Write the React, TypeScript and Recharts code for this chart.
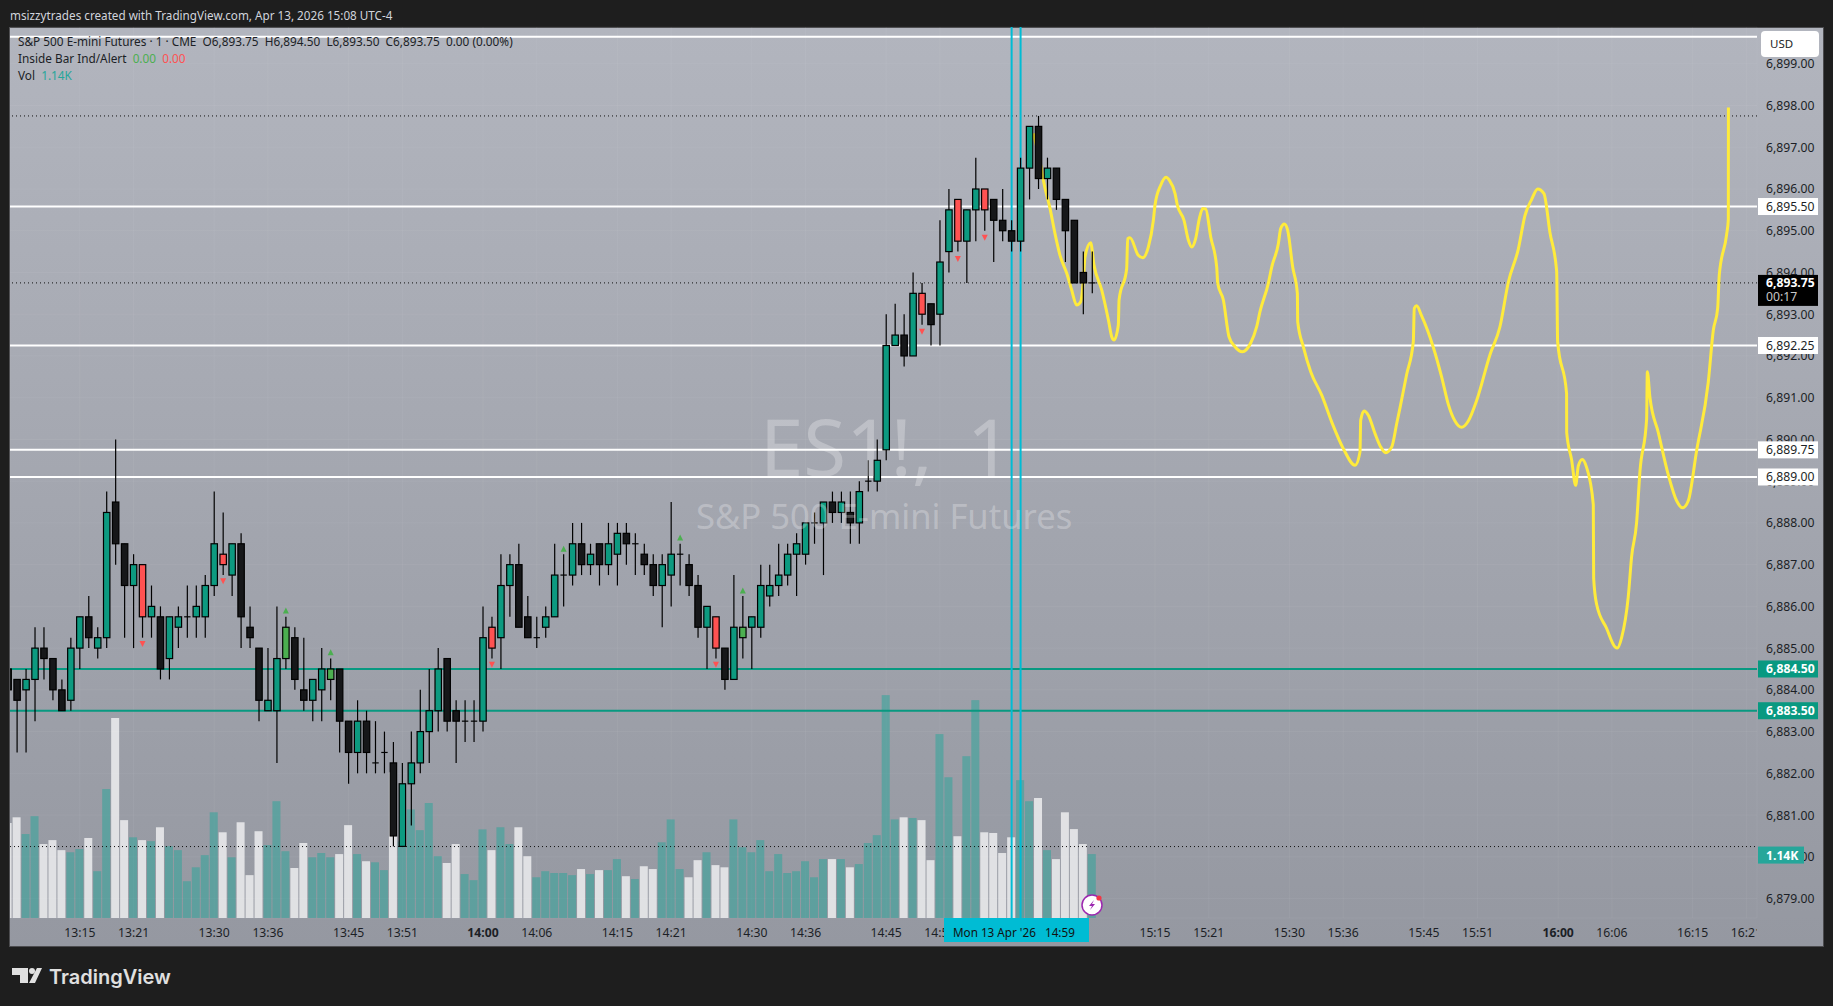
import { ComposedChart, Bar, Line, XAxis, YAxis, CartesianGrid, ReferenceLine } from "recharts";

const WIDTH = 1833;
const HEIGHT = 1006;
const FONT = '"Noto Sans", sans-serif';
const BODY_WIDTH = 6.4;

// one-minute bars, 13:07 -> 15:08
const firstMinute = 787;
const opens = [
  6884.5, 6884.25, 6884, 6884.25, 6885, 6884.75, 6884, 6883.75, 6885, 6885.75, 6885, 6885.25, 6888.5, 6887.5, 6886.5, 6887,
  6885.75, 6885.75, 6884.75, 6885.5, 6885.75, 6885.75, 6885.75, 6886.5, 6887.25, 6886.75, 6887.5, 6885.5, 6885, 6883.5, 6883.5, 6884.75,
  6885.25, 6884, 6883.75, 6884, 6884.25, 6884.5, 6883.25, 6882.5, 6883.25, 6882.25, 6882.5, 6882.25, 6880.25, 6881.75, 6882.25, 6883,
  6883.5, 6884.75, 6883.5, 6883.25, 6883.25, 6883.25, 6885.5, 6885.25, 6886.5, 6887, 6885.75, 6885.25, 6885.5, 6885.75, 6886.75, 6886.75,
  6887.5, 6887, 6887.5, 6887, 6887.25, 6887.75, 6887.5, 6887.25, 6887, 6886.5, 6886.75, 6887.25, 6887, 6886.5, 6885.5, 6885.75,
  6885, 6884.25, 6885.25, 6885.5, 6885.5, 6886.25, 6886.5, 6886.75, 6887.25, 6887.25, 6888, 6888, 6888.5, 6888.25, 6888.25, 6888,
  6889, 6889, 6889.75, 6892.25, 6892.5, 6892, 6893.5, 6893.25, 6893, 6894.5, 6895.75, 6894.75, 6895.5, 6896, 6895.75, 6895.25,
  6895, 6894.75, 6896.5, 6897.5, 6896.25, 6896.5, 6895.75, 6895.25, 6894, 6893.75,
];
const highs = [
  6884.5, 6884.25, 6884.5, 6885.5, 6885.5, 6884.75, 6884.25, 6885.25, 6885.75, 6886.25, 6885.5, 6888.75, 6890, 6887.5, 6887.25, 6887,
  6886.5, 6886, 6885.75, 6886, 6886.5, 6886.5, 6886.75, 6888.75, 6888.25, 6887.5, 6887.75, 6886, 6885, 6885, 6886, 6885.75,
  6885.5, 6885.25, 6884.25, 6885, 6884.75, 6884.5, 6883.25, 6883.75, 6883.5, 6883.25, 6883, 6882.75, 6882.25, 6883, 6884, 6884.5,
  6885, 6884.75, 6883.75, 6883.75, 6883.75, 6886, 6885.75, 6887.25, 6887.25, 6887.5, 6886.25, 6885.75, 6886, 6887.5, 6887.25, 6888,
  6888, 6887.5, 6887.5, 6888, 6888, 6888, 6887.75, 6887.5, 6887.25, 6887.25, 6888.5, 6887.5, 6887.25, 6886.75, 6886, 6885.75,
  6885, 6886.75, 6886.25, 6885.75, 6887, 6887, 6887.5, 6887.5, 6887.75, 6888, 6888.25, 6888.5, 6888.75, 6888.75, 6888.75, 6889,
  6889.5, 6890, 6893, 6893.25, 6893, 6894, 6893.75, 6893.25, 6895.25, 6896, 6895.75, 6895.5, 6896.75, 6896, 6895.75, 6896,
  6895.25, 6896.75, 6897.5, 6897.75, 6896.75, 6896.5, 6895.75, 6895.25, 6894.5, 6894.5,
];
const lows = [
  6884, 6882.5, 6882.5, 6883.25, 6884.25, 6883.75, 6883.5, 6883.5, 6884.5, 6885, 6884.75, 6885, 6887, 6885.25, 6885, 6885.25,
  6885.25, 6884.25, 6884.25, 6885, 6885.25, 6885.25, 6885.25, 6886.25, 6886.75, 6886.25, 6885, 6885, 6883.25, 6883.5, 6882.25, 6884.5,
  6884, 6883.5, 6883.25, 6883.25, 6883.75, 6882.5, 6881.75, 6882, 6882, 6882, 6882, 6880.25, 6880.25, 6880.75, 6882, 6882.25,
  6883, 6883, 6882.25, 6882.75, 6882.75, 6883, 6884.75, 6884.5, 6885.75, 6885.5, 6885.25, 6885, 6885.25, 6885.75, 6886, 6886.5,
  6886.75, 6886.75, 6886.5, 6886.75, 6886.5, 6887, 6886.75, 6886.75, 6886.25, 6885.5, 6886, 6886.5, 6886.25, 6885.25, 6884.5, 6884.75,
  6884, 6884.25, 6884.75, 6884.5, 6885.25, 6886, 6886.25, 6886.5, 6886.25, 6887, 6887.5, 6886.75, 6888, 6888, 6887.5, 6887.5,
  6888.75, 6888.75, 6889.5, 6892.25, 6891.75, 6892, 6892.75, 6892.25, 6892.25, 6894, 6894.5, 6893.75, 6894.75, 6895, 6894.25, 6894.75,
  6894.5, 6894.5, 6895.75, 6896, 6895.75, 6895.5, 6894.25, 6893.75, 6893, 6893.5,
];
const closes = [
  6884, 6883.75, 6884.25, 6885, 6884.75, 6884, 6883.5, 6885, 6885.75, 6885.25, 6885.25, 6888.25, 6887.5, 6886.5, 6887, 6885.75,
  6886, 6884.5, 6885.75, 6885.75, 6885.75, 6886, 6886.5, 6887.5, 6887, 6887.5, 6885.75, 6885.25, 6883.75, 6883.75, 6884.75, 6885.5,
  6884.25, 6883.75, 6884.25, 6884.5, 6884.5, 6883.25, 6882.5, 6883.25, 6882.5, 6882.25, 6882.5, 6880.5, 6881.75, 6882.25, 6883, 6883.5,
  6884.5, 6883.25, 6883.25, 6883.25, 6883.25, 6885.25, 6885, 6886.5, 6887, 6885.5, 6885.25, 6885.25, 6885.75, 6886.75, 6886.75, 6887.5,
  6887, 6887.25, 6887, 6887.5, 6887.75, 6887.5, 6887.5, 6887, 6886.5, 6887, 6887.25, 6887.25, 6886.5, 6885.5, 6886, 6885,
  6884.25, 6885.5, 6885.5, 6885.75, 6886.5, 6886.5, 6886.75, 6887.25, 6887.5, 6888, 6888, 6888.5, 6888.25, 6888.5, 6888, 6888.75,
  6889, 6889.5, 6892.25, 6892.5, 6892, 6893.5, 6893, 6892.75, 6894.25, 6895.5, 6894.75, 6895.5, 6896, 6895.5, 6895.25, 6895,
  6894.75, 6896.5, 6897.5, 6896.25, 6896.5, 6895.75, 6895, 6893.75, 6893.75, 6893.75,
];
const volumes = [
  1516, 1607, 1340, 1625, 1180, 1243, 1083, 1049, 1100, 1277, 747, 2058, 3192, 1562, 1288, 1243,
  1226, 1448, 1146, 1083, 587, 809, 1003, 1687, 1368, 969, 1528, 684, 1385, 1163, 1864, 1066,
  798, 1197, 969, 1037, 969, 1020, 1482, 1020, 906, 889, 764, 2326, 1220, 1733, 1402, 1835,
  986, 878, 1180, 701, 604, 1414, 1083, 1448, 1180, 1448, 986, 650, 747, 718, 718, 684,
  781, 701, 764, 764, 940, 667, 621, 826, 781, 1208, 1573, 781, 650, 923, 1049, 844,
  809, 1573, 1129, 1049, 1243, 747, 1020, 718, 747, 906, 650, 940, 940, 940, 809, 861,
  1197, 1322, 3557, 1573, 1607, 1596, 1562, 923, 2935, 2246, 1305, 2582, 3477, 1368, 1357, 1037,
  1288, 2200, 1864, 1915, 1083, 940, 1687, 1419, 1180, 1020,
];

// inside bar indicator
const insideDownMinutes = [802, 811, 841, 866, 889, 893, 896];
const insideUpMinutes = [818, 823, 849, 862, 869];
const insideDownMarks = [6885.1, 6886.6, 6884.6, 6884.6, 6892.58, 6894.32, 6894.83];
const insideUpMarks = [6885.9, 6884.9, 6887.38, 6887.65, 6886.38];
const insideUpBars = [818, 823, 869];

// hand drawn projection
const drawnMinutes = [
  901.42, 902.35, 902.54, 903.29, 903.84, 904.4, 905.15, 905.7, 906.26, 906.71, 907.01, 907.19, 907.82, 908.2, 909.05, 909.8,
  910.17, 910.43, 910.91, 910.99, 911.84, 911.95, 912.21, 913.14, 913.63, 914.26, 914.82, 915, 915.64, 916.23, 916.6, 917.24,
  917.5, 918.24, 918.73, 919.1, 919.54, 919.95, 920.33, 920.66, 921.22, 921.89, 922, 922.63, 923.26, 923.93, 924.75, 925.68,
  926.35, 926.72, 927.65, 928.03, 928.77, 929.03, 929.44, 929.81, 930.37, 930.89, 930.93, 931.56, 932.38, 933.61, 934.72, 936.02,
  937.33, 937.88, 937.96, 938.33, 938.81, 939.56, 940.19, 940.75, 941.42, 941.98, 942.34, 943.08, 943.83, 943.94, 944.2, 944.76,
  946.06, 946.99, 947.74, 948.48, 949.22, 949.97, 950.9, 952.39, 953.5, 954.43, 955.55, 956.29, 957.04, 957.71, 958.41, 959.08,
  959.83, 959.94, 960.94, 960.95, 961.5, 961.95, 962.25, 962.69, 963.17, 963.92, 963.96, 964.29, 965.41, 966.34, 966.6, 967.08,
  967.82, 968.2, 968.75, 969.13, 969.87, 969.95, 970.24, 971.17, 972.29, 973.22, 973.89, 974.52, 975.45, 976.75, 977.31, 977.8,
  977.98, 978.8, 978.99, 979,
];
const drawnPrices = [
  6897.33, 6896.45, 6896.21, 6895.53, 6894.93, 6894.41, 6893.98, 6893.58, 6893.22, 6893.3, 6893.82, 6894.37, 6894.71, 6894.17, 6893.58, 6892.86,
  6892.46, 6892.38, 6892.74, 6893.34, 6894.09, 6894.81, 6894.83, 6894.41, 6894.35, 6894.61, 6895.25, 6895.61, 6896.09, 6896.28, 6896.21, 6895.89,
  6895.61, 6895.25, 6894.77, 6894.61, 6894.81, 6895.29, 6895.53, 6895.52, 6894.85, 6894.13, 6893.74, 6893.34, 6892.46, 6892.22, 6892.1, 6892.31,
  6892.7, 6893.06, 6893.74, 6894.13, 6894.69, 6895.05, 6895.16, 6895.01, 6894.13, 6893.5, 6892.82, 6892.22, 6891.62, 6891.06, 6890.42, 6889.78,
  6889.38, 6889.7, 6890.46, 6890.68, 6890.58, 6890.14, 6889.82, 6889.68, 6889.82, 6890.38, 6890.75, 6891.55, 6892.34, 6893.14, 6893.2, 6892.96,
  6892.21, 6891.5, 6890.84, 6890.44, 6890.29, 6890.44, 6890.93, 6892.03, 6892.7, 6893.76, 6894.56, 6895.36, 6895.75, 6896, 6895.89, 6894.96,
  6894.03, 6892.34, 6891.1, 6890.17, 6889.51, 6888.9, 6889.37, 6889.52, 6889.33, 6888.44, 6886.67, 6886.05, 6885.47, 6885.03, 6885, 6885.25,
  6886.23, 6887.2, 6888, 6889.24, 6890.48, 6891.62, 6891.01, 6890.17, 6889.15, 6888.53, 6888.36, 6888.53, 6889.73, 6891.37, 6892.61, 6893.14,
  6893.94, 6894.91, 6895.27, 6897.95,
];

// horizontal levels
const whiteLevels = [6895.58, 6892.25, 6889.75, 6889.1];
const whiteLevelLabels = ["6,895.50", "6,892.25", "6,889.75", "6,889.00"];
const tealLevels = [6884.5, 6883.5];
const tealLevelLabels = ["6,884.50", "6,883.50"];
const topLine = 6899.65;
const dayHigh = 6897.75;
const lastPrice = 6893.75;
const lastVolume = 1140;
const cursorMinutes = [899, 900];

const priceTicks = [6879, 6880, 6881, 6882, 6883, 6884, 6885, 6886, 6887, 6888, 6889, 6890, 6891, 6892, 6893, 6894, 6895, 6896, 6897, 6898, 6899];
const timeTicks = [795, 801, 810, 816, 825, 831, 840, 846, 855, 861, 870, 876, 885, 891, 915, 921, 930, 936, 945, 951, 960, 966, 975, 981];
const boldTicks = [840, 960];

const timeDomain = [787.21, 982.19];
const priceDomain = [6878.534, 6899.881];
const volumeDomain = [0, 14220];

const candles = opens.map((open, i) => ({
  minute: firstMinute + i,
  open,
  high: highs[i],
  low: lows[i],
  close: closes[i],
  volume: volumes[i],
}));
const drawn = drawnMinutes.map((minute, i) => ({ minute, price: drawnPrices[i] }));
const downMarks = insideDownMinutes.map((minute, i) => ({ minute, price: insideDownMarks[i] }));
const upMarks = insideUpMinutes.map((minute, i) => ({ minute, price: insideUpMarks[i] }));

const candleRange = (d: any) => [d.low, d.high];

const bodyColor = (d: any) => {
  if (insideDownMinutes.includes(d.minute)) return "#ff5252";
  if (insideUpBars.includes(d.minute)) return "#4caf50";
  return d.close >= d.open ? "#0d9a80" : "#161719";
};

// range bar spans low..high, open and close are placed inside it
const Candle = (props: any) => {
  const { x, y, width, height, payload: d } = props;
  const at = (p: number) => y + ((d.high - p) / (d.high - d.low)) * height;
  const top = at(Math.max(d.open, d.close));
  const bottom = at(Math.min(d.open, d.close));
  const mid = x + width / 2;
  const left = mid - BODY_WIDTH / 2;
  return (
    <g>
      <line x1={mid} x2={mid} y1={y} y2={y + height} stroke="#000" strokeWidth={1.2} />
      {d.open === d.close ? (
        <line x1={left} x2={left + BODY_WIDTH} y1={top} y2={top} stroke="#000" strokeWidth={1.2} />
      ) : (
        <rect x={left} y={top} width={BODY_WIDTH} height={bottom - top} fill={bodyColor(d)} stroke="#000" strokeWidth={1.2} />
      )}
    </g>
  );
};

const VolumeBar = (props: any) => {
  const { x, y, width, height, payload: d } = props;
  const fill = d.close >= d.open ? "rgba(38,166,154,0.5)" : "rgba(255,255,255,0.7)";
  return <rect x={x} y={y} width={width} height={height} fill={fill} />;
};

const markDot = (color: string, up: boolean) => (props: any) => {
  const { cx, cy, key } = props;
  const d = up ? `M${cx - 3},${cy + 3}L${cx + 3},${cy + 3}L${cx},${cy - 3}Z` : `M${cx - 3},${cy - 3}L${cx + 3},${cy - 3}L${cx},${cy + 3}Z`;
  return <path key={key} d={d} fill={color} />;
};

const PriceTick = (props: any) => {
  const { y, payload } = props;
  const label = payload.value.toLocaleString("en-US", { minimumFractionDigits: 2 });
  return (
    <text x={1766} y={y + 4.5} fontSize={12.2} fontFamily={FONT} fill="#1c1f26">
      {label}
    </text>
  );
};

const TimeTick = (props: any) => {
  const { x, payload } = props;
  const m = payload.value;
  const label = `${Math.floor(m / 60)}:${String(m % 60).padStart(2, "0")}`;
  const bold = boldTicks.includes(m);
  return (
    <text x={x} y={937} textAnchor="middle" fontSize={12.2} fontWeight={bold ? 700 : 400} fontFamily={FONT} fill="#1c1f26" clipPath="url(#plotEdge)">
      {label}
    </text>
  );
};

const PriceTag = (props: any) => {
  const { viewBox, text, fill, color, boxWidth, bold, drop } = props;
  const y = viewBox.y + (drop ?? 0);
  return (
    <g>
      <rect x={1758} y={y - 8.5} width={boxWidth ?? 60} height={17} fill={fill} />
      <text x={1766} y={y + 4.5} fontSize={12.2} fontWeight={bold ? 700 : 400} fontFamily={FONT} fill={color}>
        {text}
      </text>
    </g>
  );
};

const LastTag = (props: any) => {
  const y = props.viewBox.y;
  return (
    <g>
      <rect x={1758} y={y - 8} width={60} height={31} fill="#000" />
      <text x={1766} y={y + 4.5} fontSize={12.2} fontWeight={700} fontFamily={FONT} fill="#fff">
        6,893.75
      </text>
      <text x={1766} y={y + 18} fontSize={12.2} fontFamily={FONT} fill="#c8c8c8">
        00:17
      </text>
    </g>
  );
};

const overlayText = (left: number, top: number, size: number, color: string): any => ({
  position: "absolute",
  left,
  top,
  fontSize: size,
  lineHeight: "16px",
  color,
  fontFamily: FONT,
  whiteSpace: "pre",
});

const layerStyle: any = { position: "absolute", left: 0, top: 0 };
const layerMargin = { top: 27, right: 76, bottom: 88, left: 10 };

export default function App() {
  return (
    <div style={{ position: "absolute", left: 0, top: 0, width: WIDTH, height: HEIGHT, background: "#1e1e1e", overflow: "hidden" }}>
      <div
        style={{
          position: "absolute",
          left: 9,
          top: 27,
          width: 1813,
          height: 918,
          border: "1px solid #4c4c4f",
          background: "linear-gradient(180deg, #b2b5be 0%, #9598a1 100%)",
        }}
      />
      <div style={layerStyle}>
        <ComposedChart width={WIDTH} height={HEIGHT} data={candles} margin={{ top: 27, right: 0, bottom: 60, left: 10 }}>
          <defs>
            <clipPath id="plotEdge">
              <rect x={0} y={0} width={1757} height={HEIGHT} />
            </clipPath>
          </defs>
          <CartesianGrid xAxisId="t" yAxisId="price" stroke="rgba(255,255,255,0.05)" />
          <XAxis
            xAxisId="t"
            dataKey="minute"
            type="number"
            domain={timeDomain}
            allowDataOverflow
            ticks={timeTicks}
            interval={0}
            height={28}
            axisLine={false}
            tickLine={false}
            tick={<TimeTick />}
          />
          <XAxis xAxisId="v" dataKey="minute" type="number" domain={timeDomain} allowDataOverflow hide />
          <YAxis
            yAxisId="price"
            orientation="right"
            type="number"
            domain={priceDomain}
            allowDataOverflow
            ticks={priceTicks}
            interval={0}
            width={76}
            axisLine={false}
            tickLine={false}
            tick={<PriceTick />}
          />
          <YAxis yAxisId="vol" type="number" domain={volumeDomain} allowDataOverflow hide />

          <Bar xAxisId="v" yAxisId="vol" dataKey="volume" barSize={8} shape={<VolumeBar />} isAnimationActive={false} />

          <ReferenceLine xAxisId="t" yAxisId="vol" y={lastVolume} stroke="#111" strokeDasharray="1 3" />
          <ReferenceLine xAxisId="t" yAxisId="price" y={dayHigh} stroke="#111" strokeDasharray="1 3" />
          <ReferenceLine xAxisId="t" yAxisId="price" y={lastPrice} stroke="#111" strokeDasharray="1 3" />
          <ReferenceLine xAxisId="t" yAxisId="price" y={topLine} stroke="#fff" strokeWidth={2} />
          {whiteLevels.map((level) => (
            <ReferenceLine key={level} xAxisId="t" yAxisId="price" y={level} stroke="#fff" strokeWidth={2} />
          ))}
          {tealLevels.map((level) => (
            <ReferenceLine key={level} xAxisId="t" yAxisId="price" y={level} stroke="#089981" strokeWidth={2} />
          ))}
          {cursorMinutes.map((m) => (
            <ReferenceLine key={m} xAxisId="t" yAxisId="price" x={m} stroke="#00bcd4" strokeWidth={2} />
          ))}

          <Line xAxisId="t" yAxisId="price" data={drawn} dataKey="price" type="monotoneX" stroke="#ffeb3b" strokeWidth={3} dot={false} isAnimationActive={false} />
        </ComposedChart>
      </div>

      {/* candles go over the drawing and the lines, same scales as the chart below */}
      <div style={layerStyle}>
        <ComposedChart width={WIDTH} height={HEIGHT} data={candles} margin={layerMargin}>
          <XAxis xAxisId="t" dataKey="minute" type="number" domain={timeDomain} allowDataOverflow hide />
          <YAxis yAxisId="price" type="number" domain={priceDomain} allowDataOverflow hide />
          <Bar xAxisId="t" yAxisId="price" dataKey={candleRange} barSize={7} shape={<Candle />} isAnimationActive={false} />
          <Line xAxisId="t" yAxisId="price" data={downMarks} dataKey="price" stroke="none" dot={markDot("#ff5252", false)} isAnimationActive={false} />
          <Line xAxisId="t" yAxisId="price" data={upMarks} dataKey="price" stroke="none" dot={markDot("#4caf50", true)} isAnimationActive={false} />
        </ComposedChart>
      </div>

      {/* price tags sit over the axis labels */}
      <div style={layerStyle}>
        <ComposedChart width={WIDTH} height={HEIGHT} data={candles} margin={layerMargin}>
          <XAxis xAxisId="t" dataKey="minute" type="number" domain={timeDomain} allowDataOverflow hide />
          <YAxis yAxisId="price" type="number" domain={priceDomain} allowDataOverflow hide />
          <YAxis yAxisId="vol" type="number" domain={volumeDomain} allowDataOverflow hide />
          <ReferenceLine xAxisId="t" yAxisId="vol" y={lastVolume} stroke="none" label={<PriceTag text="1.14K" fill="#26a69a" color="#fff" boxWidth={46} bold drop={8.5} />} />
          <ReferenceLine xAxisId="t" yAxisId="price" y={lastPrice} stroke="none" label={<LastTag />} />
          {whiteLevels.map((level, i) => (
            <ReferenceLine key={level} xAxisId="t" yAxisId="price" y={level} stroke="none" label={<PriceTag text={whiteLevelLabels[i]} fill="#fff" color="#1c1f26" />} />
          ))}
          {tealLevels.map((level, i) => (
            <ReferenceLine key={level} xAxisId="t" yAxisId="price" y={level} stroke="none" label={<PriceTag text={tealLevelLabels[i]} fill="#089981" color="#fff" bold />} />
          ))}
        </ComposedChart>
      </div>

      <div style={overlayText(10, 7, 11.7, "#d1d4dc")}>msizzytrades created with TradingView.com, Apr 13, 2026 15:08 UTC-4</div>
      <div style={overlayText(18, 33, 11.8, "#1c1f26")}>S&amp;P 500 E-mini Futures · 1 · CME  O6,893.75  H6,894.50  L6,893.50  C6,893.75  0.00 (0.00%)</div>
      <div style={overlayText(18, 50, 11.8, "#1c1f26")}>
        Inside Bar Ind/Alert  <span style={{ color: "#4caf50" }}>0.00</span>  <span style={{ color: "#ff5252" }}>0.00</span>
      </div>
      <div style={overlayText(18, 67, 11.8, "#1c1f26")}>
        Vol  <span style={{ color: "#26a69a" }}>1.14K</span>
      </div>

      <div style={{ ...overlayText(760, 398, 78, "rgba(255,255,255,0.27)"), lineHeight: "96px", wordSpacing: 14 }}>ES1!, 1</div>
      <div style={{ ...overlayText(696, 494, 34.6, "rgba(255,255,255,0.27)"), lineHeight: "44px" }}>S&amp;P 500 E-mini Futures</div>

      <div style={{ position: "absolute", left: 1761, top: 31, width: 58, height: 26, background: "#fff", borderRadius: 4, boxSizing: "border-box" }}>
        <span style={{ ...overlayText(9, 5, 11.5, "#1c1f26") }}>USD</span>
      </div>

      <div style={{ position: "absolute", left: 944, top: 918, width: 145, height: 24, background: "#00bcd4" }}>
        <span style={overlayText(9, 6, 11.7, "#111")}>Mon 13 Apr '26   14:59</span>
      </div>

      <svg style={{ position: "absolute", left: 1080, top: 893 }} width={26} height={24}>
        <circle cx={12} cy={12} r={10} fill="#fff" stroke="#9c27b0" strokeWidth={1.5} />
        <path d="M14,7 L9,13 L12,13 L10,17 L15,11 L12,11 Z" fill="#9c27b0" />
        <circle cx={19} cy={5} r={2.6} fill="#f23645" />
      </svg>

      <svg style={{ position: "absolute", left: 11, top: 966 }} width={34} height={20}>
        <path d="M1,2 H17 V17 H9 V9 H1 Z" fill="#e0e0e0" />
        <circle cx={21} cy={5} r={3} fill="#e0e0e0" />
        <path d="M26,2 H31 L24,17 H18 Z" fill="#e0e0e0" />
      </svg>
      <div style={{ ...overlayText(49, 965, 20, "#e0e0e0"), lineHeight: "24px", fontWeight: 600, fontFamily: "Inter, sans-serif" }}>TradingView</div>
    </div>
  );
}
